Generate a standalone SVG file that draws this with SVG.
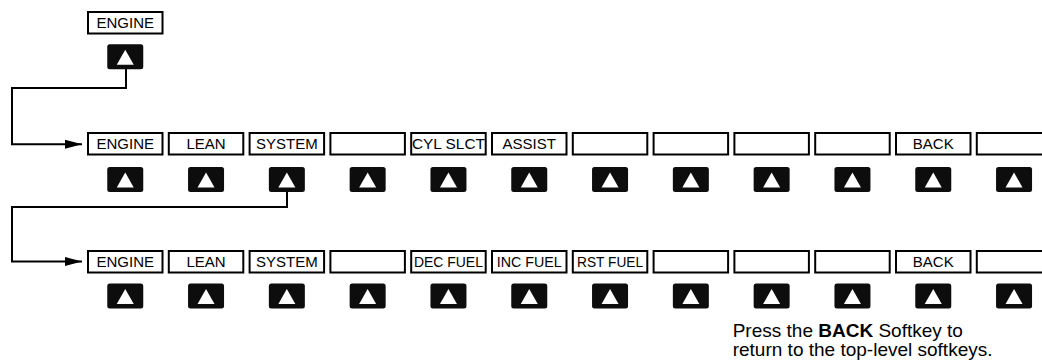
<svg xmlns="http://www.w3.org/2000/svg" width="1042" height="362" viewBox="0 0 1042 362">
<style>
.box{fill:#fff;stroke:#000;stroke-width:2}
.lbl{font-family:"Liberation Sans",Arial,sans-serif;font-size:15px;fill:#000;text-anchor:middle}
.btn{fill:#0d0d0d}
.tri{fill:#fff}
.wire{fill:none;stroke:#000;stroke-width:2}
.note{font-family:"Liberation Sans",Arial,sans-serif;font-size:19px;fill:#000}
</style>
<defs>
<g id="key"><rect class="btn" x="-18" y="0" width="36" height="25" rx="2.5"/><polygon class="tri" points="0,5.5 -8.5,20.5 8.5,20.5"/></g>
<marker id="arr" markerWidth="17" markerHeight="10" refX="17" refY="5" orient="auto" markerUnits="userSpaceOnUse"><polygon points="0,0.5 17,5 0,9.5" fill="#000"/></marker>
</defs>
<rect width="1042" height="362" fill="#fff"/>

<g id="connectors">
<path class="wire" d="M126,69 V88 H12 V144.3 H82" marker-end="url(#arr)"/>
<path class="wire" d="M287,191 V207 H12 V261.5 H82" marker-end="url(#arr)"/>
</g>

<g id="top-engine">
<rect class="box" x="88" y="12" width="74.5" height="21.5"/>
<text class="lbl" x="125.25" y="28.3">ENGINE</text>
<use href="#key" x="125.25" y="44.3"/>
</g>

<g id="row1">
<g id="r1-k1"><rect class="box" x="88" y="133" width="74.5" height="21.5"/><text class="lbl" x="125.25" y="149.2">ENGINE</text><use href="#key" x="125.25" y="167"/></g>
<g id="r1-k2"><rect class="box" x="168.8" y="133" width="74.5" height="21.5"/><text class="lbl" x="206.05" y="149.2">LEAN</text><use href="#key" x="206.05" y="167"/></g>
<g id="r1-k3"><rect class="box" x="249.6" y="133" width="74.5" height="21.5"/><text class="lbl" x="286.85" y="149.2">SYSTEM</text><use href="#key" x="286.85" y="167"/></g>
<g id="r1-k4"><rect class="box" x="330.4" y="133" width="74.5" height="21.5"/><use href="#key" x="367.65" y="167"/></g>
<g id="r1-k5"><rect class="box" x="411.2" y="133" width="74.5" height="21.5"/><text class="lbl" x="448.45" y="149.2" textLength="73" lengthAdjust="spacingAndGlyphs">CYL SLCT</text><use href="#key" x="448.45" y="167"/></g>
<g id="r1-k6"><rect class="box" x="492" y="133" width="74.5" height="21.5"/><text class="lbl" x="529.25" y="149.2">ASSIST</text><use href="#key" x="529.25" y="167"/></g>
<g id="r1-k7"><rect class="box" x="572.8" y="133" width="74.5" height="21.5"/><use href="#key" x="610.05" y="167"/></g>
<g id="r1-k8"><rect class="box" x="653.6" y="133" width="74.5" height="21.5"/><use href="#key" x="690.85" y="167"/></g>
<g id="r1-k9"><rect class="box" x="734.4" y="133" width="74.5" height="21.5"/><use href="#key" x="771.65" y="167"/></g>
<g id="r1-k10"><rect class="box" x="815.2" y="133" width="74.5" height="21.5"/><use href="#key" x="852.45" y="167"/></g>
<g id="r1-k11"><rect class="box" x="896" y="133" width="74.5" height="21.5"/><text class="lbl" x="933.25" y="149.2">BACK</text><use href="#key" x="933.25" y="167"/></g>
<g id="r1-k12"><rect class="box" x="976.8" y="133" width="74.5" height="21.5"/><use href="#key" x="1014.05" y="167"/></g>
</g>

<g id="row2">
<g id="r2-k1"><rect class="box" x="88" y="251" width="74.5" height="21.5"/><text class="lbl" x="125.25" y="266.9">ENGINE</text><use href="#key" x="125.25" y="283.5"/></g>
<g id="r2-k2"><rect class="box" x="168.8" y="251" width="74.5" height="21.5"/><text class="lbl" x="206.05" y="266.9">LEAN</text><use href="#key" x="206.05" y="283.5"/></g>
<g id="r2-k3"><rect class="box" x="249.6" y="251" width="74.5" height="21.5"/><text class="lbl" x="286.85" y="266.9">SYSTEM</text><use href="#key" x="286.85" y="283.5"/></g>
<g id="r2-k4"><rect class="box" x="330.4" y="251" width="74.5" height="21.5"/><use href="#key" x="367.65" y="283.5"/></g>
<g id="r2-k5"><rect class="box" x="411.2" y="251" width="74.5" height="21.5"/><text class="lbl" x="448.45" y="266.9" textLength="69" lengthAdjust="spacingAndGlyphs">DEC FUEL</text><use href="#key" x="448.45" y="283.5"/></g>
<g id="r2-k6"><rect class="box" x="492" y="251" width="74.5" height="21.5"/><text class="lbl" x="529.25" y="266.9" textLength="65" lengthAdjust="spacingAndGlyphs">INC FUEL</text><use href="#key" x="529.25" y="283.5"/></g>
<g id="r2-k7"><rect class="box" x="572.8" y="251" width="74.5" height="21.5"/><text class="lbl" x="610.05" y="266.9" textLength="66" lengthAdjust="spacingAndGlyphs">RST FUEL</text><use href="#key" x="610.05" y="283.5"/></g>
<g id="r2-k8"><rect class="box" x="653.6" y="251" width="74.5" height="21.5"/><use href="#key" x="690.85" y="283.5"/></g>
<g id="r2-k9"><rect class="box" x="734.4" y="251" width="74.5" height="21.5"/><use href="#key" x="771.65" y="283.5"/></g>
<g id="r2-k10"><rect class="box" x="815.2" y="251" width="74.5" height="21.5"/><use href="#key" x="852.45" y="283.5"/></g>
<g id="r2-k11"><rect class="box" x="896" y="251" width="74.5" height="21.5"/><text class="lbl" x="933.25" y="266.9">BACK</text><use href="#key" x="933.25" y="283.5"/></g>
<g id="r2-k12"><rect class="box" x="976.8" y="251" width="74.5" height="21.5"/><use href="#key" x="1014.05" y="283.5"/></g>
</g>

<g id="note">
<text class="note" x="732.7" y="337">Press the <tspan font-weight="bold">BACK</tspan> Softkey to</text>
<text class="note" x="732.7" y="356">return to the top-level softkeys.</text>
</g>
</svg>
